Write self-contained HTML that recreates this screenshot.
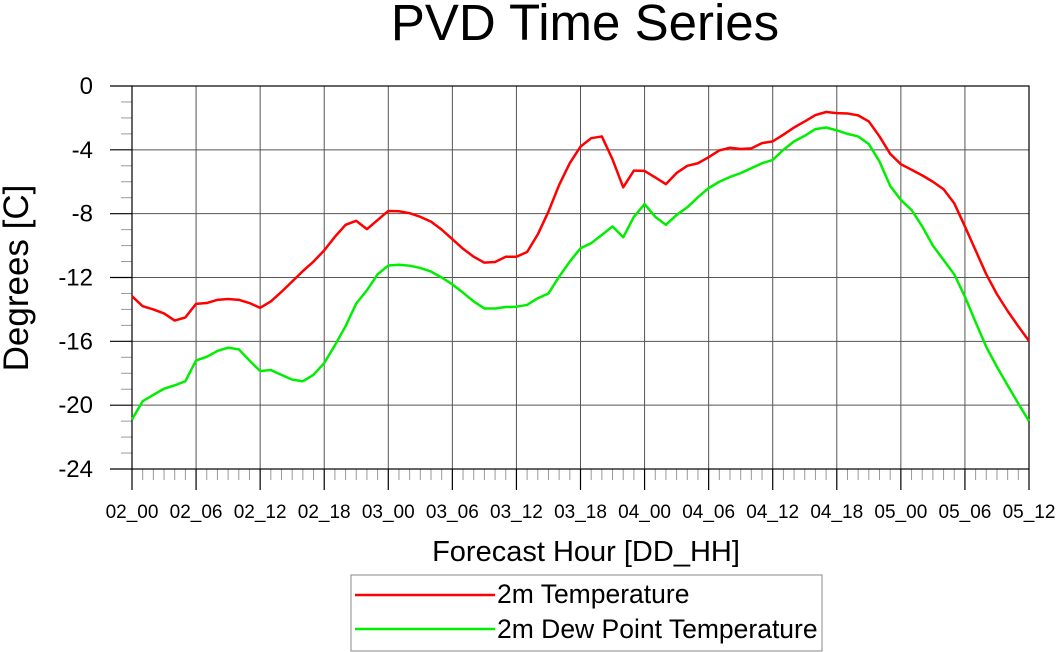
<!DOCTYPE html>
<html><head><meta charset="utf-8"><style>
body{margin:0;background:#fff;}
svg{display:block;font-family:"Liberation Sans",sans-serif;}
</style></head><body>
<svg id="chart" width="1056" height="652">
<text x="585" y="40" font-size="51" text-anchor="middle">PVD Time Series</text>
<g id="grid"></g>
<g id="axes"></g>
<g id="series"></g>
<text transform="translate(28,278) rotate(-90)" font-size="35" text-anchor="middle">Degrees [C]</text>
<text x="586" y="561" font-size="29" text-anchor="middle">Forecast Hour [DD_HH]</text>
<g>
<rect x="351" y="575" width="471" height="76" fill="#fff" stroke="#888" stroke-width="1"/>
<g>
<line x1="355" y1="595" x2="495" y2="595" stroke="#ff0000" stroke-width="2.5"/>
<text x="497" y="603" font-size="26.5">2m Temperature</text></g>
<g>
<line x1="355" y1="629" x2="495" y2="629" stroke="#00ee00" stroke-width="2.5"/>
<text x="497" y="638" font-size="26.5">2m Dew Point Temperature</text></g>
</g>
</svg>
<script>
const xTickLabels=["02_00","02_06","02_12","02_18","03_00","03_06","03_12","03_18","04_00","04_06","04_12","04_18","05_00","05_06","05_12"];
const yTickValues=[0,-4,-8,-12,-16,-20,-24];
const temperature=[-13.17,-13.8,-14.0,-14.25,-14.7,-14.5,-13.65,-13.6,-13.4,-13.35,-13.4,-13.6,-13.9,-13.5,-12.9,-12.25,-11.6,-11.0,-10.3,-9.45,-8.7,-8.45,-8.97,-8.4,-7.83,-7.85,-7.97,-8.2,-8.5,-9.0,-9.6,-10.2,-10.7,-11.07,-11.03,-10.7,-10.7,-10.4,-9.3,-7.87,-6.2,-4.83,-3.8,-3.27,-3.16,-4.6,-6.35,-5.3,-5.32,-5.73,-6.15,-5.45,-5.0,-4.84,-4.46,-4.04,-3.87,-3.95,-3.91,-3.58,-3.47,-3.05,-2.6,-2.22,-1.82,-1.63,-1.7,-1.72,-1.84,-2.22,-3.16,-4.25,-4.9,-5.25,-5.6,-6.0,-6.47,-7.35,-8.8,-10.3,-11.8,-13.05,-14.1,-15.06,-15.98];
const dewpoint=[-20.9,-19.75,-19.35,-18.97,-18.76,-18.5,-17.2,-16.97,-16.6,-16.4,-16.5,-17.2,-17.86,-17.8,-18.1,-18.4,-18.5,-18.1,-17.36,-16.25,-15.05,-13.63,-12.8,-11.8,-11.25,-11.2,-11.26,-11.4,-11.63,-12.0,-12.43,-12.95,-13.5,-13.94,-13.94,-13.85,-13.83,-13.72,-13.3,-13.0,-11.95,-11.0,-10.17,-9.85,-9.33,-8.8,-9.48,-8.2,-7.4,-8.2,-8.7,-8.08,-7.6,-6.97,-6.4,-6.0,-5.7,-5.46,-5.15,-4.84,-4.63,-4.0,-3.47,-3.12,-2.7,-2.6,-2.78,-3.0,-3.16,-3.64,-4.73,-6.26,-7.14,-7.77,-8.8,-10.0,-10.9,-11.8,-13.2,-14.8,-16.35,-17.6,-18.76,-19.9,-21.0];
const NS="http://www.w3.org/2000/svg";
const L=132,R=1029,T=86,B=469,H=84;
function xs(h){return L+(R-L)*h/H;}
function ys(v){return T+(B-T)*(0-v)/24;}
function mk(tag,attrs,parent){const e=document.createElementNS(NS,tag);for(const k in attrs)e.setAttribute(k,attrs[k]);parent.appendChild(e);return e;}
const grid=document.getElementById('grid'),axes=document.getElementById('axes'),series=document.getElementById('series');
xTickLabels.forEach((lab,i)=>{const x=xs(i*6);
 const g=mk('line',{x1:x,y1:T,x2:x,y2:B,stroke:'#555','stroke-width':1},grid);
 
 
 mk('line',{x1:x,y1:B,x2:x,y2:B+21,stroke:'#000','stroke-width':1.2},axes);
 const t=mk('text',{x:x,y:518,'font-size':19,'text-anchor':'middle'},axes);t.textContent=lab;
 
 
});
for(let h=0;h<=H;h++){if(h%6)mk('line',{x1:xs(h),y1:B,x2:xs(h),y2:B+11,stroke:'#999','stroke-width':1},axes);}
yTickValues.forEach(v=>{const y=ys(v);
 const g=mk('line',{x1:L,y1:y,x2:R,y2:y,stroke:'#555','stroke-width':1},grid);
 
 
 mk('line',{x1:L-22,y1:y,x2:L,y2:y,stroke:'#000','stroke-width':1.2},axes);
 const t=mk('text',{x:93,y:y+8,'font-size':24,'text-anchor':'end'},axes);t.textContent=String(v);
 
 
});
for(let v=0;v>=-24;v--){if(v%4)mk('line',{x1:L-11,y1:ys(v),x2:L,y2:ys(v),stroke:'#999','stroke-width':1},axes);}
mk('rect',{x:L,y:T,width:R-L,height:B-T,fill:'none',stroke:'#000','stroke-width':1.2},axes);
function draw(arr,color,name){const p=mk('polyline',{points:arr.map((v,i)=>xs(i)+','+ys(v)).join(' '),fill:'none',stroke:color,'stroke-width':2.5,'stroke-linejoin':'round'},series);
 
 }
draw(dewpoint,'#00ee00','dewpoint-line');
draw(temperature,'#ff0000','temperature-line');
</script>
</body></html>
